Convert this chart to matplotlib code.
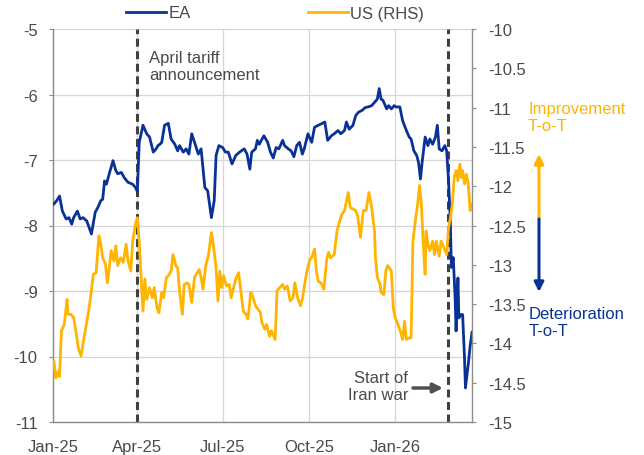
import numpy as np
import pandas as pd
import matplotlib
matplotlib.use('Agg')
import matplotlib.pyplot as plt

plt.rcParams['font.family'] = ['Liberation Sans', 'DejaVu Sans']

# ---------------------------------------------------------------------------
# data
# ---------------------------------------------------------------------------
ea_dates = [
    '2025-01-02', '2025-01-05', '2025-01-08', '2025-01-11', '2025-01-15', '2025-01-18',
    '2025-01-21', '2025-01-23', '2025-01-27', '2025-01-30', '2025-02-02', '2025-02-06',
    '2025-02-11', '2025-02-15', '2025-02-18', '2025-02-21', '2025-02-23', '2025-02-25',
    '2025-02-27', '2025-03-02', '2025-03-06', '2025-03-09', '2025-03-11', '2025-03-15',
    '2025-03-18', '2025-03-22', '2025-03-27', '2025-03-30', '2025-04-01', '2025-04-03',
    '2025-04-07', '2025-04-11', '2025-04-14', '2025-04-18', '2025-04-21', '2025-04-23',
    '2025-04-25', '2025-04-27', '2025-04-30', '2025-05-04', '2025-05-07', '2025-05-11',
    '2025-05-14', '2025-05-16', '2025-05-20', '2025-05-23', '2025-05-26', '2025-05-29',
    '2025-06-01', '2025-06-05', '2025-06-08', '2025-06-12', '2025-06-15', '2025-06-17',
    '2025-06-19', '2025-06-22', '2025-06-24', '2025-06-27', '2025-07-01', '2025-07-04',
    '2025-07-07', '2025-07-11', '2025-07-15', '2025-07-19', '2025-07-24', '2025-07-27',
    '2025-07-30', '2025-08-01', '2025-08-05', '2025-08-07', '2025-08-09', '2025-08-14',
    '2025-08-18', '2025-08-21', '2025-08-24', '2025-08-27', '2025-08-30', '2025-09-03',
    '2025-09-05', '2025-09-09', '2025-09-12', '2025-09-15', '2025-09-18', '2025-09-21',
    '2025-09-24', '2025-09-26', '2025-09-30', '2025-10-04', '2025-10-07', '2025-10-11',
    '2025-10-14', '2025-10-18', '2025-10-21', '2025-10-25', '2025-10-28', '2025-11-01',
    '2025-11-04', '2025-11-08', '2025-11-10', '2025-11-13', '2025-11-17', '2025-11-20',
    '2025-11-23', '2025-11-27', '2025-11-30', '2025-12-03', '2025-12-07', '2025-12-10',
    '2025-12-13', '2025-12-15', '2025-12-17', '2025-12-19', '2025-12-23', '2025-12-25',
    '2025-12-28', '2025-12-31', '2026-01-02', '2026-01-06', '2026-01-09', '2026-01-13',
    '2026-01-16', '2026-01-18', '2026-01-21', '2026-01-24', '2026-01-26', '2026-01-28',
    '2026-01-30', '2026-02-02', '2026-02-05', '2026-02-07', '2026-02-10', '2026-02-13',
    '2026-02-15', '2026-02-17', '2026-02-20', '2026-02-23', '2026-02-25', '2026-02-27',
    '2026-03-01', '2026-03-02', '2026-03-04', '2026-03-06', '2026-03-07', '2026-03-09',
    '2026-03-10', '2026-03-12', '2026-03-14', '2026-03-16', '2026-03-17', '2026-03-20',
    '2026-03-22', '2026-03-24',
]
ea_vals = [
    -7.67, -7.62, -7.55, -7.78, -7.90, -7.88,
    -7.98, -7.88, -7.78, -7.90, -7.88, -7.93,
    -8.13, -7.80, -7.72, -7.62, -7.60, -7.32,
    -7.37, -7.21, -7.01, -7.16, -7.21, -7.19,
    -7.27, -7.34, -7.37, -7.42, -7.48, -6.73,
    -6.47, -6.60, -6.65, -6.88, -6.83, -6.78,
    -6.76, -6.73, -6.47, -6.44, -6.68, -6.76,
    -6.86, -6.78, -6.88, -6.83, -6.91, -6.60,
    -6.73, -6.91, -6.83, -7.42, -7.47, -7.67,
    -7.88, -7.62, -6.93, -6.78, -6.81, -6.88,
    -6.88, -7.06, -6.93, -6.88, -6.83, -6.91,
    -7.14, -6.88, -6.83, -6.70, -6.76, -6.63,
    -6.73, -6.88, -6.97, -6.81, -6.83, -6.70,
    -6.78, -6.83, -6.86, -6.95, -6.78, -6.73,
    -6.91, -6.83, -6.60, -6.73, -6.50, -6.47,
    -6.45, -6.42, -6.70, -6.63, -6.60, -6.55,
    -6.60, -6.55, -6.42, -6.53, -6.47, -6.32,
    -6.27, -6.24, -6.20, -6.19, -6.17, -6.12,
    -6.07, -5.91, -6.07, -6.09, -6.22, -6.17,
    -6.22, -6.17, -6.19, -6.19, -6.40, -6.55,
    -6.65, -6.68, -6.86, -6.93, -7.04, -7.29,
    -7.01, -6.65, -6.78, -6.68, -6.76, -6.65,
    -6.47, -6.83, -6.86, -6.78, -6.86, -7.32,
    -7.98, -8.64, -8.49, -9.10, -9.61, -8.80,
    -9.41, -9.36, -9.36, -10.02, -10.48, -10.12,
    -9.84, -9.63,
]

us_dates = [
    '2025-01-02', '2025-01-04', '2025-01-07', '2025-01-08', '2025-01-10', '2025-01-13',
    '2025-01-16', '2025-01-17', '2025-01-20', '2025-01-23', '2025-01-26', '2025-01-28',
    '2025-01-31', '2025-02-03', '2025-02-05', '2025-02-08', '2025-02-11', '2025-02-13',
    '2025-02-16', '2025-02-19', '2025-02-21', '2025-02-23', '2025-02-26', '2025-02-28',
    '2025-03-02', '2025-03-04', '2025-03-07', '2025-03-09', '2025-03-11', '2025-03-14',
    '2025-03-17', '2025-03-20', '2025-03-22', '2025-03-25', '2025-03-27', '2025-03-30',
    '2025-04-01', '2025-04-03', '2025-04-05', '2025-04-07', '2025-04-09', '2025-04-11',
    '2025-04-14', '2025-04-17', '2025-04-19', '2025-04-22', '2025-04-24', '2025-04-27',
    '2025-04-29', '2025-05-02', '2025-05-04', '2025-05-07', '2025-05-09', '2025-05-12',
    '2025-05-14', '2025-05-16', '2025-05-19', '2025-05-21', '2025-05-24', '2025-05-26',
    '2025-05-29', '2025-06-01', '2025-06-03', '2025-06-06', '2025-06-08', '2025-06-10',
    '2025-06-13', '2025-06-16', '2025-06-19', '2025-06-21', '2025-06-24', '2025-06-26',
    '2025-06-28', '2025-06-30', '2025-07-02', '2025-07-05', '2025-07-08', '2025-07-10',
    '2025-07-15', '2025-07-18', '2025-07-20', '2025-07-23', '2025-07-26', '2025-07-28',
    '2025-07-31', '2025-08-02', '2025-08-05', '2025-08-08', '2025-08-10', '2025-08-12',
    '2025-08-15', '2025-08-17', '2025-08-20', '2025-08-22', '2025-08-26', '2025-08-28',
    '2025-08-31', '2025-09-03', '2025-09-05', '2025-09-08', '2025-09-11', '2025-09-14',
    '2025-09-16', '2025-09-19', '2025-09-22', '2025-09-24', '2025-09-27', '2025-09-29',
    '2025-10-02', '2025-10-04', '2025-10-07', '2025-10-09', '2025-10-11', '2025-10-14',
    '2025-10-17', '2025-10-20', '2025-10-22', '2025-10-24', '2025-10-28', '2025-10-31',
    '2025-11-02', '2025-11-05', '2025-11-08', '2025-11-12', '2025-11-14', '2025-11-17',
    '2025-11-20', '2025-11-22', '2025-11-25', '2025-11-28', '2025-12-01', '2025-12-04',
    '2025-12-07', '2025-12-10', '2025-12-11', '2025-12-13', '2025-12-16', '2025-12-17',
    '2025-12-20', '2025-12-22', '2025-12-24', '2025-12-26', '2025-12-28', '2025-12-30',
    '2026-01-01', '2026-01-04', '2026-01-07', '2026-01-09', '2026-01-11', '2026-01-13',
    '2026-01-16', '2026-01-18', '2026-01-20', '2026-01-23', '2026-01-25', '2026-01-27',
    '2026-01-29', '2026-01-31', '2026-02-02', '2026-02-03', '2026-02-05', '2026-02-07',
    '2026-02-10', '2026-02-12', '2026-02-14', '2026-02-17', '2026-02-19', '2026-02-22',
    '2026-02-25', '2026-02-27', '2026-03-01', '2026-03-03', '2026-03-05', '2026-03-07',
    '2026-03-09', '2026-03-11', '2026-03-13', '2026-03-14', '2026-03-16', '2026-03-18',
    '2026-03-20', '2026-03-22', '2026-03-24',
]
us_vals = [
    -14.23, -14.44, -14.35, -14.42, -13.84, -13.76,
    -13.44, -13.63, -13.63, -13.67, -13.89, -14.06,
    -14.16, -13.93, -13.80, -13.59, -13.33, -13.12,
    -13.10, -12.63, -12.74, -12.91, -12.99, -13.23,
    -13.04, -12.82, -12.95, -12.76, -13.01, -12.91,
    -12.97, -12.74, -12.95, -13.08, -12.70, -12.48,
    -12.40, -12.70, -13.16, -13.59, -13.18, -13.44,
    -13.29, -13.42, -13.29, -13.55, -13.61, -13.35,
    -13.42, -13.16, -13.14, -13.08, -12.87, -13.01,
    -13.04, -13.33, -13.63, -13.25, -13.23, -13.25,
    -13.48, -13.16, -13.12, -13.06, -13.16, -13.31,
    -13.01, -12.87, -12.59, -12.74, -13.04, -13.46,
    -13.08, -13.29, -13.14, -13.27, -13.25, -13.42,
    -13.18, -13.10, -13.29, -13.59, -13.63, -13.69,
    -13.35, -13.40, -13.52, -13.57, -13.60, -13.74,
    -13.82, -13.76, -13.91, -13.84, -13.95, -13.33,
    -13.29, -13.25, -13.31, -13.27, -13.46, -13.42,
    -13.23, -13.42, -13.52, -13.44, -13.21, -13.08,
    -12.93, -12.91, -12.80, -13.08, -13.21, -13.23,
    -13.31, -12.93, -12.84, -12.91, -12.87, -12.57,
    -12.48, -12.36, -12.31, -12.08, -12.27, -12.29,
    -12.31, -12.38, -12.65, -12.31, -12.31, -12.08,
    -12.27, -12.57, -12.91, -13.16, -13.25, -13.35,
    -13.38, -13.08, -13.01, -13.04, -13.08, -13.55,
    -13.67, -13.76, -13.86, -13.95, -13.72, -13.95,
    -13.93, -13.93, -12.70, -12.40, -12.23, -11.99,
    -12.23, -12.74, -13.12, -12.57, -12.74, -12.82,
    -12.70, -12.87, -12.70, -12.89, -12.70, -12.78,
    -12.87, -12.53, -12.40, -12.23, -11.89, -11.80,
    -11.93, -11.72, -11.89, -11.80, -11.97, -11.85,
    -11.97, -12.31, -12.23,
]

event_dates = ['2025-04-01', '2026-02-26']
x_ticks = ['2025-01-01', '2025-04-01', '2025-07-01', '2025-10-01', '2026-01-01']
x_labels = ['Jan-25', 'Apr-25', 'Jul-25', 'Oct-25', 'Jan-26']
x_range = ['2025-01-01', '2026-03-24']
left_ticks = [-11, -10, -9, -8, -7, -6, -5]
right_ticks = [-15, -14.5, -14, -13.5, -13, -12.5, -12, -11.5, -11, -10.5, -10]

BLUE = '#0A3296'
ORANGE = '#FFB400'
TXT = '#4a4a4a'
SPINE = '#8c8c8c'
GRID = '#d6d6d6'

# ---------------------------------------------------------------------------
# figure
# ---------------------------------------------------------------------------
fig = plt.figure(figsize=(6.44, 4.56), dpi=100)
ax = fig.add_axes([53 / 644, 1 - 423 / 456, 419 / 644, 393 / 456])
ax2 = ax.twinx()

ax.plot(pd.to_datetime(ea_dates), ea_vals, color=BLUE, lw=2.0, label='EA', zorder=3)
ax2.plot(pd.to_datetime(us_dates), us_vals, color=ORANGE, lw=2.0, label='US (RHS)', zorder=2)

for d in event_dates:
    ax.axvline(pd.Timestamp(d), color='#404040', lw=2.2, ls=(0, (2.6, 1.5)), zorder=2)

ax.set_xlim(pd.to_datetime(x_range))
ax.set_ylim(-11, -5)
ax2.set_ylim(-15, -10)

ax.set_xticks(pd.to_datetime(x_ticks))
ax.set_xticklabels(x_labels)
ax.set_yticks(left_ticks)
ax.set_yticklabels([f'{v:g}' for v in left_ticks])
ax2.set_yticks(right_ticks)
ax2.set_yticklabels([f'{v:g}' for v in right_ticks])

ax.grid(True, color=GRID, lw=0.9, zorder=0)
ax.set_axisbelow(True)

for a in (ax, ax2):
    for s in a.spines.values():
        s.set_visible(False)
ax.spines['left'].set_visible(True)
ax.spines['bottom'].set_visible(True)
ax2.spines['right'].set_visible(True)
for s in (ax.spines['left'], ax.spines['bottom'], ax2.spines['right']):
    s.set_color(SPINE)
    s.set_linewidth(1.0)

ax.tick_params(axis='x', length=0, pad=12, labelsize=12, labelcolor=TXT)
ax.tick_params(axis='y', length=3, color=SPINE, pad=8, labelsize=12, labelcolor=TXT)
ax2.tick_params(axis='y', length=3, color=SPINE, pad=9, labelsize=12, labelcolor=TXT)

# legend on top
h1, l1 = ax.get_legend_handles_labels()
h2, l2 = ax2.get_legend_handles_labels()
fig.legend(h1 + h2, l1 + l2, ncol=2, loc='center', bbox_to_anchor=(275 / 644, 1 - 14 / 456),
           frameon=False, fontsize=12, handlelength=2.4, handletextpad=0.15,
           columnspacing=7.0, labelcolor=TXT)

# event labels
fig.text(149 / 644, 1 - 67 / 456, 'April tariff\nannouncement', ha='left', va='center',
         fontsize=12, color=TXT, linespacing=1.1)
fig.text(408 / 644, 1 - 387 / 456, 'Start of\nIran war', ha='right', va='center',
         fontsize=12, color=TXT, linespacing=1.1, multialignment='right')
ax.annotate('', xy=(443 / 644, 1 - 389 / 456), xycoords='figure fraction',
            xytext=(413 / 644, 1 - 389 / 456), textcoords='figure fraction',
            arrowprops=dict(arrowstyle='-|>', color='#505050', lw=2.5,
                            mutation_scale=14, shrinkA=0, shrinkB=0))

# terms-of-trade direction arrows
ax.annotate('', xy=(539 / 644, 1 - 155 / 456), xycoords='figure fraction',
            xytext=(539 / 644, 1 - 220 / 456), textcoords='figure fraction',
            arrowprops=dict(arrowstyle='-|>', color=ORANGE, lw=2.2,
                            mutation_scale=14, shrinkA=0, shrinkB=0))
ax.annotate('', xy=(539 / 644, 1 - 293 / 456), xycoords='figure fraction',
            xytext=(539 / 644, 1 - 220 / 456), textcoords='figure fraction',
            arrowprops=dict(arrowstyle='-|>', color=BLUE, lw=2.2,
                            mutation_scale=14, shrinkA=0, shrinkB=0))
fig.text(528 / 644, 1 - 118 / 456, 'Improvement\nT-o-T', ha='left', va='center',
         fontsize=12, color=ORANGE, linespacing=1.1)
fig.text(529 / 644, 1 - 323 / 456, 'Deterioration\nT-o-T', ha='left', va='center',
         fontsize=12, color=BLUE, linespacing=1.1)

fig.savefig('out.png', dpi=100)
